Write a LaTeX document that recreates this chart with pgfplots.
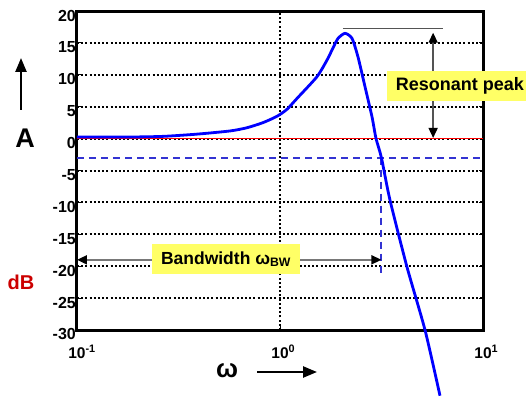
\documentclass[border=0pt]{standalone}
\usepackage{pgfplots}
\pgfplotsset{compat=1.18}
\usepackage{fontspec}
\setmainfont{Liberation Sans}
\usetikzlibrary{arrows.meta}
\definecolor{yel}{RGB}{255,255,102}
\definecolor{dblue}{RGB}{51,51,210}
\definecolor{dbred}{RGB}{204,0,0}
\definecolor{agray}{RGB}{120,120,120}
\begin{document}
\begin{tikzpicture}[x=1pt,y=1pt]
\begin{axis}[
  at={(77pt,66pt)}, anchor=south west,
  width=406pt, height=319pt, scale only axis,
  xmode=log, log basis x=10,
  xmin=0.1, xmax=10, ymin=-30, ymax=20,
  clip=false,
  axis line style={black, line width=3pt},
  xtick={0.1,1,10},
  xticklabels={10\rlap{\textsuperscript{-1}},10\rlap{\textsuperscript{0}},10\rlap{\textsuperscript{1}}},
  minor xtick={},
  ytick={-30,-25,-20,-15,-10,-5,0,5,10,15,20},
  yticklabels={-30,-25,-20,-15,-10,-5,0,5,10,15,20},
  tick align=inside,
  major tick length=4pt,
  tick style={black, line width=1pt},
  xmajorgrids, ymajorgrids,
  major grid style={black, line width=2pt, dash pattern=on 2pt off 2.2pt},
  /pgf/number format/assume math mode=true,
  xticklabel style={font=\fontsize{15.5}{15}\selectfont\bfseries, text height=11pt, text depth=0pt, inner ysep=0pt, yshift=-17pt},
  yticklabel style={font=\fontsize{16}{16}\selectfont\bfseries, inner xsep=0pt, xshift=-1pt, yshift=-4.5pt},
]
% 0 dB line
\addplot[red, line width=1.5pt] coordinates {(0.1,0) (10,0)};
% -3 dB line
\addplot[dblue, line width=2pt, dash pattern=on 7pt off 5pt] coordinates {(0.1,-3) (10,-3)};
\addplot[dblue, line width=2pt, dash pattern=on 7pt off 5pt] coordinates {(3.16,-3) (3.16,-21.8)};
% magnitude curve
\addplot[blue, line width=2.8pt, smooth, tension=0.4] coordinates {
(0.1,0.25) (0.1825,0.25) (0.2655,0.35) (0.390,0.7) (0.568,1.2) (0.687,1.7)
(0.824,2.5) (0.967,3.5) (1.083,4.6) (1.213,6.3) (1.521,9.7) (1.704,12.3)
(1.824,14.2) (1.931,15.7) (2.091,16.5) (2.264,15.7) (2.422,12.8) (2.624,8.1)
(2.84,3.4) (2.97,0.05) (3.16,-3.0) (3.48,-9.6) (4.22,-20.1) (5.18,-30) (6.14,-40.3)
};
% bandwidth arrow
\draw[agray, line width=1.8pt, {Triangle[length=10pt,width=9pt,black]}-{Triangle[length=10pt,width=9pt,black]}] (axis cs:0.1,-19) -- (axis cs:3.16,-19);
\node[fill=yel, inner xsep=9pt, inner ysep=0pt, minimum height=30pt, font=\fontsize{17.5}{18}\selectfont\bfseries] at (axis cs:0.542,-18.9) {Bandwidth ω\textsubscript{BW}};
% resonant peak
\draw[agray!70!black, line width=1.3pt] (axis cs:2.04,17.3) -- (axis cs:6.35,17.3);
\draw[agray!70!black, line width=1.5pt, {Triangle[length=10pt,width=9pt,black]}-{Triangle[length=10pt,width=9pt,black]}] (axis cs:5.68,16.6) -- (axis cs:5.68,0.1);
\node[fill=yel, inner xsep=9pt, inner ysep=0pt, minimum height=30pt, font=\fontsize{18}{18}\selectfont\bfseries] at (axis cs:7.7,8.2) {Resonant peak};
\end{axis}
% side labels
\draw[black, line width=2.5pt, -{Triangle[length=14pt,width=11pt]}] (21,286) -- (21,338);
\node[font=\fontsize{27}{27}\selectfont\bfseries] at (25,258) {A};
\node[text=dbred, font=\fontsize{20}{20}\selectfont\bfseries] at (21,114) {dB};
\node[font=\fontsize{26}{26}\selectfont\bfseries] at (227,25) {ω};
\draw[black, line width=2.5pt, -{Triangle[length=14pt,width=11pt]}] (257,24) -- (317,24);
\pgfresetboundingbox
\useasboundingbox (0,0) rectangle (526,396);
\end{tikzpicture}
\end{document}
